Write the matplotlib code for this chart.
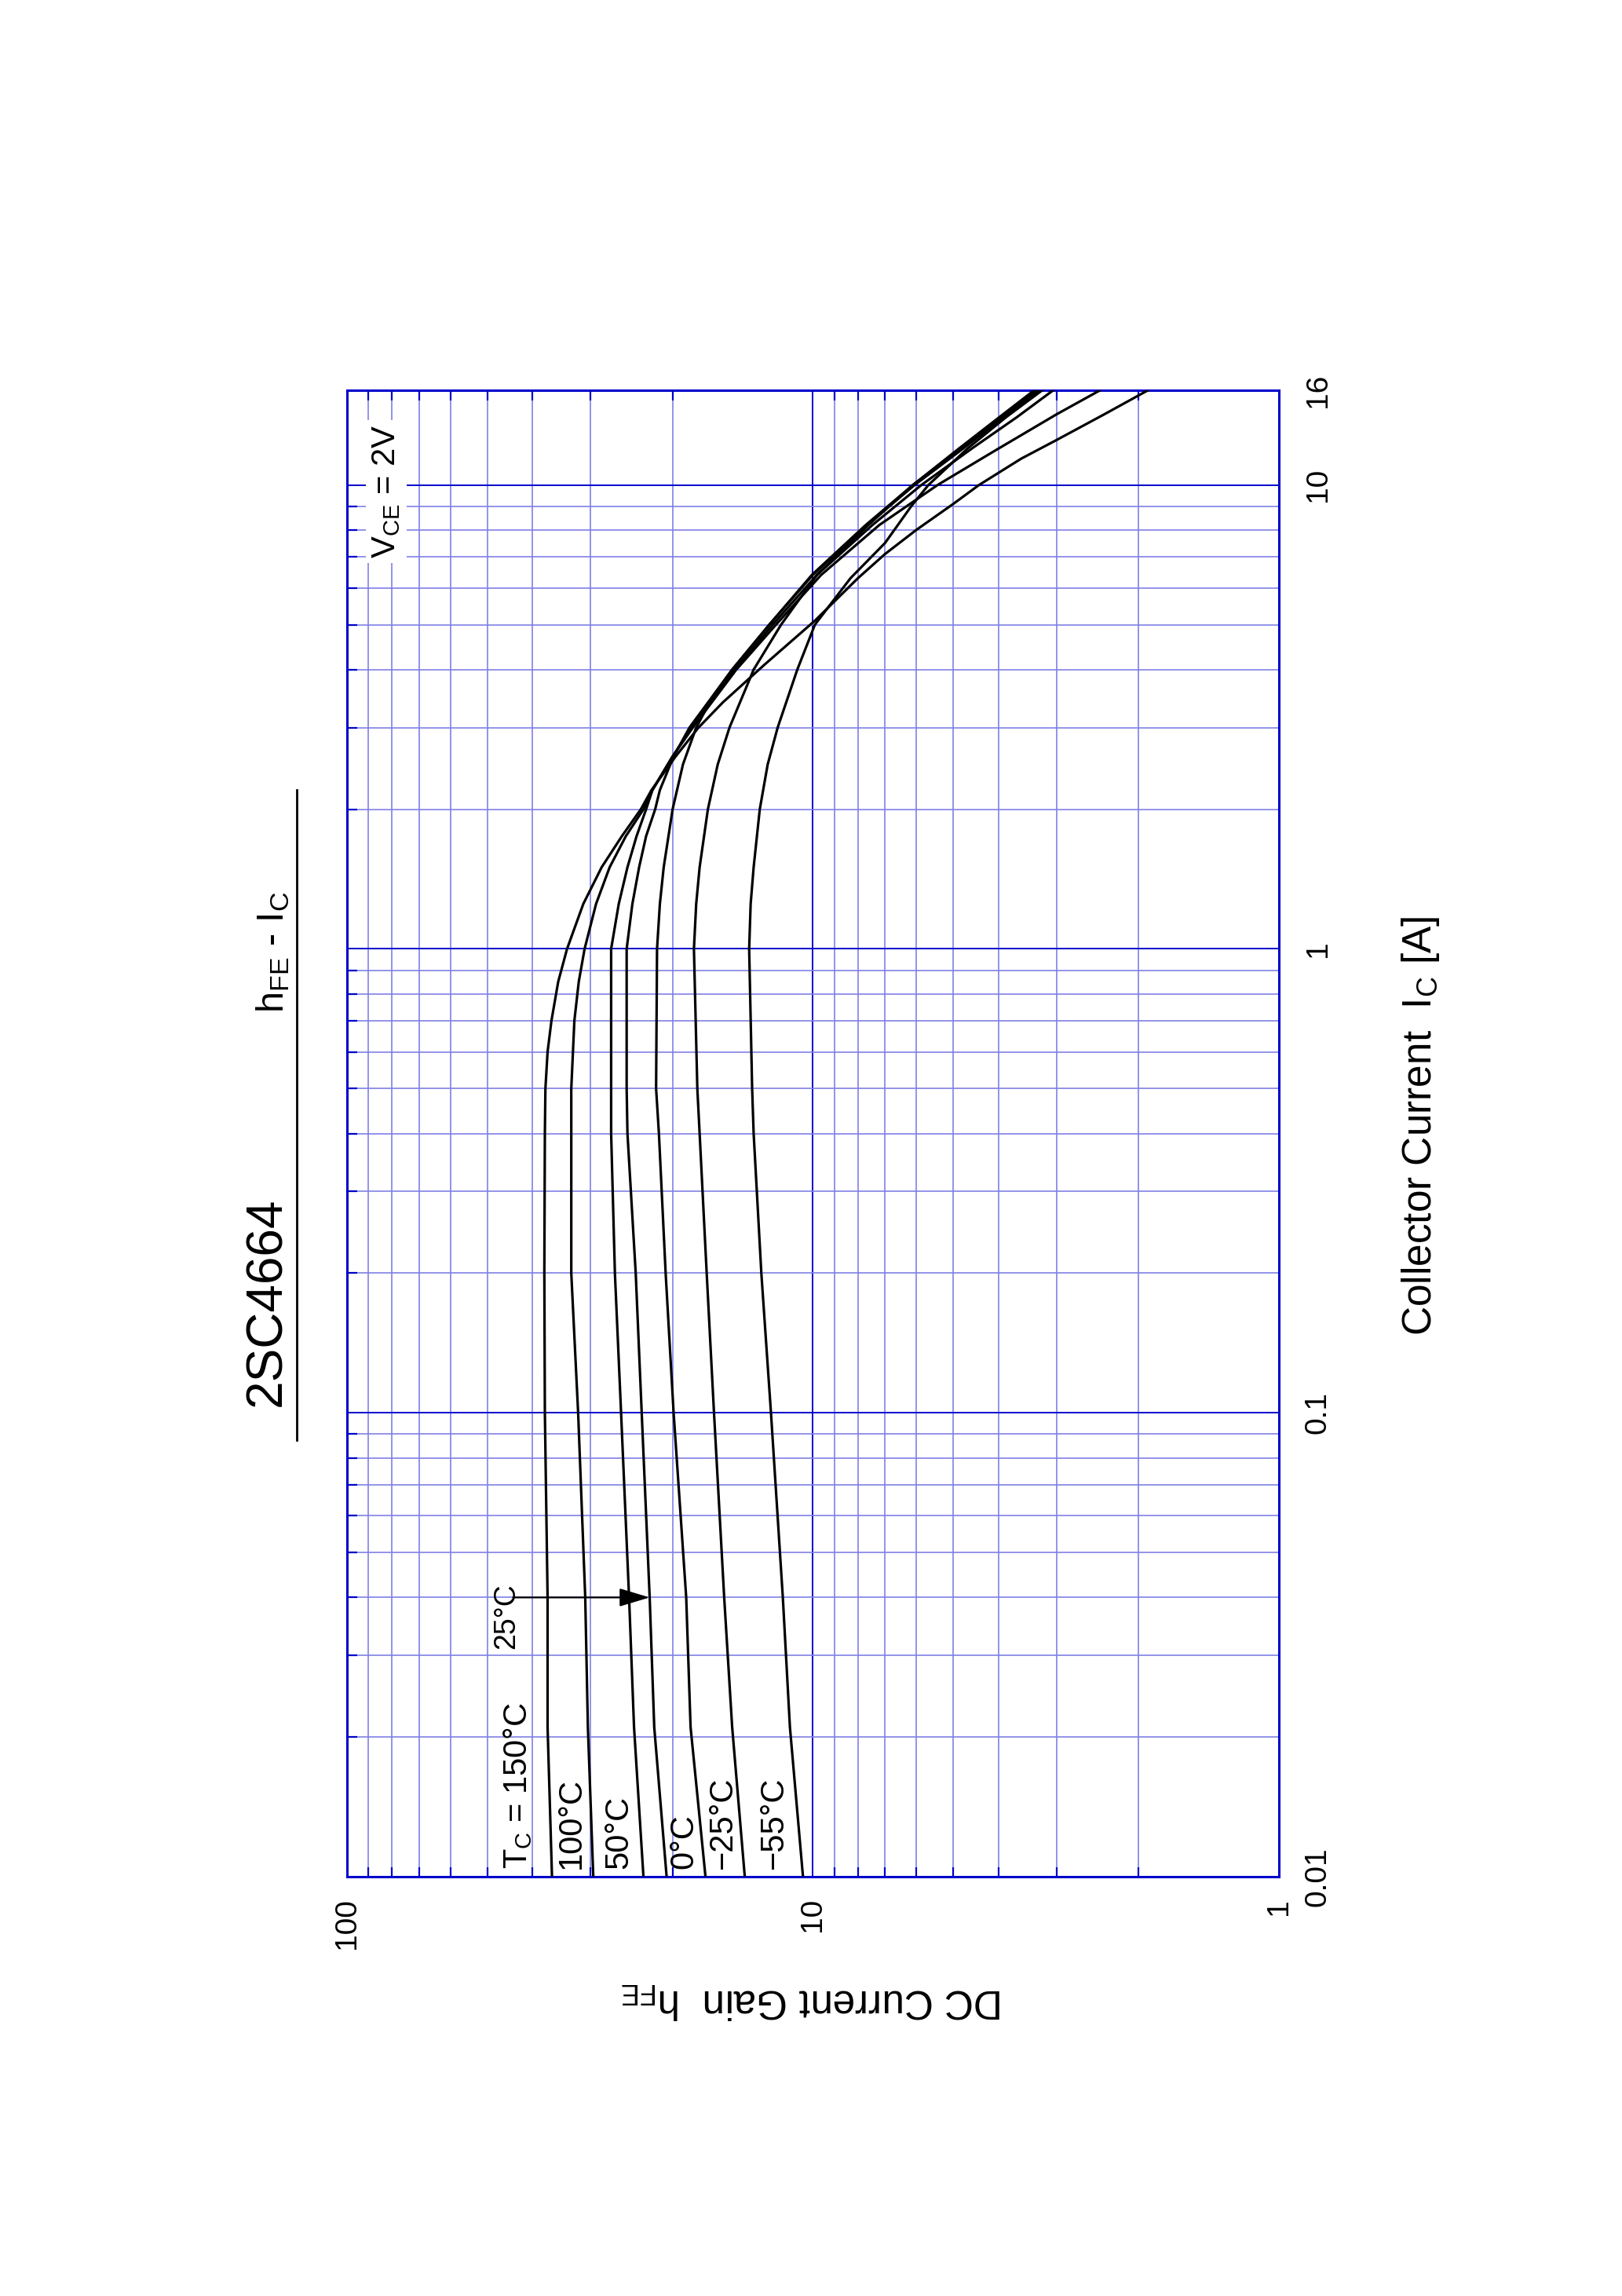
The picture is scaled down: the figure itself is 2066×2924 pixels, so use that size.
import matplotlib
matplotlib.use('Agg')
import matplotlib.pyplot as plt
from matplotlib.ticker import FixedLocator, FixedFormatter, LogLocator, NullFormatter

plt.rcParams['font.family'] = ['Liberation Sans', 'DejaVu Sans']
plt.rcParams['mathtext.fontset'] = 'custom'
plt.rcParams['mathtext.rm'] = 'Liberation Sans'
plt.rcParams['mathtext.it'] = 'Liberation Sans:italic'
plt.rcParams['mathtext.bf'] = 'Liberation Sans:bold'

DARK = '#0000cc'
LIGHT = '#8080e6'

# hFE vs Ic curves (Ic in A)
ic_150 = [0.01, 0.021, 0.04, 0.1, 0.2, 0.4, 0.5, 0.6, 0.7, 0.85, 1.0, 1.25, 1.5, 1.75, 2.0,
          2.2, 2.6, 3.0, 3.4, 4.1, 5.1, 6.3, 7.1, 8.0, 9.1, 10, 11.4, 12.5, 14.2, 16]
hfe_150 = [36.3, 37.1, 37.1, 37.6, 37.7, 37.6, 37.5, 37.1, 36.4, 35.2, 33.7, 31.1, 28.4, 25.7, 23.4,
           22.2, 19.7, 17.6, 15.6, 12.7, 9.9, 8.0, 7.0, 6.0, 5.0, 4.4, 3.57, 3.0, 2.37, 1.91]

ic_100 = [0.01, 0.021, 0.04, 0.1, 0.2, 0.4, 0.5, 0.7, 0.85, 1.0, 1.25, 1.5, 1.75, 2.0, 2.2,
          2.6, 3.0, 4.0, 5.0, 6.4, 8.2, 10, 11.8, 14.2, 16]
hfe_100 = [29.6, 30.4, 30.8, 31.9, 33.0, 33.0, 33.0, 32.5, 31.8, 30.9, 29.2, 27.3, 25.2, 23.1, 22.1,
           20.0, 18.1, 14.6, 12.0, 9.6, 7.2, 5.4, 4.1, 3.0, 2.42]

ic_50 = [0.01, 0.021, 0.04, 0.1, 0.2, 0.4, 0.5, 1.0, 1.25, 1.5, 1.75, 2.0, 2.2, 2.6,
         3.0, 4.0, 5.0, 6.4, 8.2, 10, 12, 14, 16]
hfe_50 = [23.1, 24.2, 24.8, 25.8, 26.6, 27.1, 27.1, 27.1, 26.1, 25.0, 23.9, 22.8, 22.1, 20.0,
          18.2, 14.7, 12.2, 9.8, 7.45, 5.85, 4.55, 3.65, 3.05]

ic_25 = [0.01, 0.021, 0.04, 0.1, 0.2, 0.4, 0.5, 1.0, 1.25, 1.5, 1.75, 2.0, 2.2, 2.6,
         3.0, 4.0, 5.0, 6.4, 8.2, 10, 12, 14, 16]
hfe_25 = [20.6, 21.9, 22.4, 23.3, 24.0, 25.0, 25.1, 25.1, 24.4, 23.6, 22.8, 21.8, 21.3, 19.9,
          18.4, 14.9, 12.4, 10.0, 7.65, 6.05, 4.75, 3.9, 3.27]

ic_0 = [0.01, 0.021, 0.04, 0.1, 0.2, 0.4, 0.5, 1.0, 1.25, 1.5, 2.0, 2.5, 3.0, 3.5, 4.0,
        5.0, 6.4, 8.2, 10, 12, 14, 16]
hfe_0 = [17.0, 18.3, 18.7, 19.9, 20.7, 21.4, 21.7, 21.6, 21.3, 20.9, 20.0, 19.0, 17.8, 16.4, 14.9,
         12.4, 10.05, 7.7, 6.1, 4.8, 3.95, 3.32]

ic_m25 = [0.01, 0.021, 0.04, 0.1, 0.2, 0.4, 0.5, 1.0, 1.25, 1.5, 2.0, 2.5, 3.0, 4.0,
          5.0, 6.4, 8.2, 10, 12, 14, 16]
hfe_m25 = [14.0, 14.9, 15.5, 16.3, 16.9, 17.5, 17.7, 18.0, 17.8, 17.5, 16.8, 16.0, 15.1, 13.4,
           11.7, 9.8, 7.6, 6.1, 4.85, 3.98, 3.35]

ic_m55 = [0.01, 0.021, 0.04, 0.1, 0.2, 0.4, 0.5, 1.0, 1.25, 1.5, 2.0, 2.5, 3.0, 4.0, 5.0,
          6.3, 7.5, 9.0, 10, 12, 14, 16]
hfe_m55 = [10.5, 11.2, 11.6, 12.3, 12.9, 13.4, 13.5, 13.7, 13.6, 13.4, 13.0, 12.5, 11.9, 10.8, 9.9,
           8.3, 7.0, 6.15, 5.65, 4.65, 3.85, 3.22]

curves = [(ic_150, hfe_150), (ic_100, hfe_100), (ic_50, hfe_50), (ic_25, hfe_25),
          (ic_0, hfe_0), (ic_m25, hfe_m25), (ic_m55, hfe_m55)]

# temperature labels near the bottom of the chart (hFE position of each label)
temp_labels = [r'T$_{\mathrm{C}}$ = 150°C', '100°C', '50°C', '0°C', '−25°C', '−55°C']
temp_label_hfe = [43.0, 33.0, 26.1, 18.9, 15.6, 12.1]

hfe_ticks = [1, 10, 100]
hfe_ticklabels = ['1', '10', '100']
ic_ticks = [0.01, 0.1, 1, 10, 16]
ic_ticklabels = ['0.01', '0.1', '1', '10', '16']

fig = plt.figure(figsize=(10.33, 14.62), dpi=200)
# the datasheet page is turned on its side: hFE runs left->right (100..1), Ic runs bottom->top
ax = fig.add_axes([0.2139, 0.1826, 0.5745, 0.6474])
ax.set_xscale('log')
ax.set_yscale('log')
ax.set_xlim(100, 1)
ax.set_ylim(0.01, 16)
ax.set_axisbelow(True)

for ic, hfe in curves:
    ax.plot(hfe, ic, color='black', lw=1.15, zorder=3, solid_joinstyle='round')

# ticks and grid
ax.xaxis.set_major_locator(FixedLocator(hfe_ticks))
ax.xaxis.set_major_formatter(FixedFormatter(hfe_ticklabels))
ax.xaxis.set_minor_locator(LogLocator(base=10, subs=range(2, 10), numticks=20))
ax.xaxis.set_minor_formatter(NullFormatter())
ax.yaxis.set_major_locator(FixedLocator(ic_ticks))
ax.yaxis.set_major_formatter(FixedFormatter(ic_ticklabels))
ax.yaxis.set_minor_locator(LogLocator(base=10, subs=range(2, 10), numticks=20))
ax.yaxis.set_minor_formatter(NullFormatter())

ax.grid(which='major', color=DARK, lw=0.7)
ax.grid(which='minor', color=LIGHT, lw=0.6)

ax.tick_params(axis='both', which='both', direction='in', color=DARK, width=0.8)
ax.tick_params(axis='both', which='minor', length=4.5)
ax.tick_params(axis='both', which='major', length=0)
ax.tick_params(axis='x', which='both', top=True, bottom=True)
ax.tick_params(axis='x', which='major', labelsize=14, labelrotation=90, pad=9.7)
ax.tick_params(axis='y', which='both', left=True, right=False, labelleft=False, labelright=True)
ax.tick_params(axis='y', which='major', labelsize=14, labelrotation=90, pad=11.5)
for lab in ax.get_yticklabels():
    lab.set_verticalalignment('center')
    lab.set_horizontalalignment('left')

for sp in ax.spines.values():
    sp.set_color(DARK)
    sp.set_linewidth(1.1)

# curve labels
for txt, h in zip(temp_labels, temp_label_hfe):
    ax.text(h, 0.0104, txt, rotation=90, ha='center', va='bottom', fontsize=15, zorder=4)

ax.annotate('', xy=(hfe_25[2], ic_25[2]), xytext=(44.0, 0.04),
            arrowprops=dict(arrowstyle='-|>,head_length=0.4,head_width=0.12',
                            mutation_scale=30, lw=0.8, color='black',
                            shrinkA=0, shrinkB=0), zorder=4)
ax.text(45.5, 0.043, '25°C', rotation=90, ha='center', va='top', fontsize=13.5, zorder=4)

ax.text(0.042, 0.932, r'V$_{\mathrm{CE}}$ = 2V', transform=ax.transAxes, rotation=90,
        ha='center', va='center', fontsize=15, zorder=4,
        bbox=dict(boxstyle='square,pad=0.15', facecolor='white', edgecolor='none'))

# titles and axis names
ax.text(-0.0716, 0.3867, '2SC4664', transform=ax.transAxes, rotation=90,
        rotation_mode='anchor', ha='center', va='baseline', fontsize=23)
ax.text(-0.0682, 0.622, r'h$_{\mathrm{FE}}$ - I$_{\mathrm{C}}$', transform=ax.transAxes,
        rotation=90, rotation_mode='anchor', ha='center', va='baseline', fontsize=17.5)
ax.plot([-0.0539, -0.0539], [0.2937, 0.731], transform=ax.transAxes, color='black',
        lw=1.0, clip_on=False)

ax.text(1.1634, 0.505, r'Collector Current  I$_{\mathrm{C}}$ [A]', transform=ax.transAxes,
        rotation=90, rotation_mode='anchor', ha='center', va='baseline', fontsize=18.5)
ax.text(0.4996, -0.0755, r'DC Current Gain  h$_{\mathrm{FE}}$', transform=ax.transAxes,
        rotation=180, rotation_mode='anchor', ha='center', va='baseline', fontsize=18.5)

fig.savefig('out.png', dpi=200)
